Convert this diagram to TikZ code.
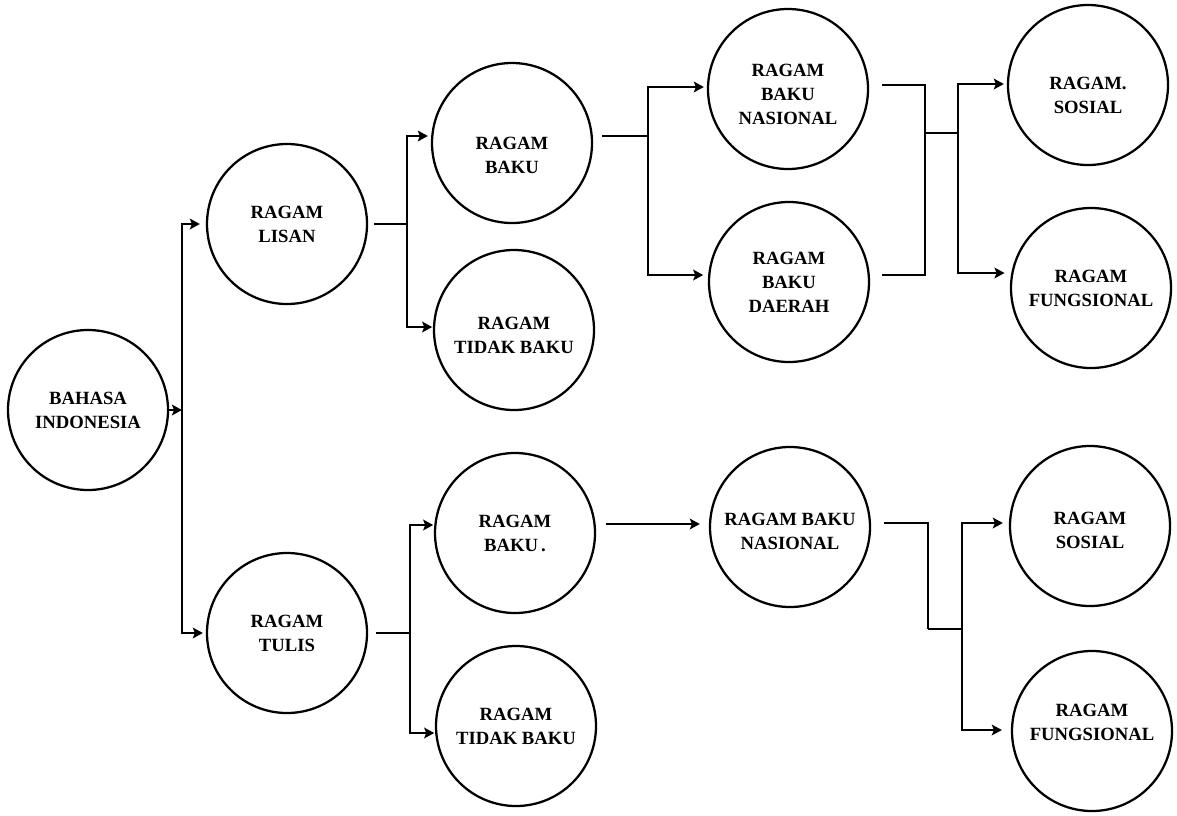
\documentclass[tikz,border=0pt]{standalone}
\usepackage{fontspec}
\setmainfont{Liberation Serif}
\usetikzlibrary{arrows.meta}
\begin{document}
\begin{tikzpicture}[x=0.75pt,y=-0.75pt,
  circ/.style={circle,draw,line width=1.7pt,minimum size=120pt,inner sep=0pt,align=center,
    font=\bfseries\fontsize{14}{18}\selectfont},
  ln/.style={line width=2pt},
  arr/.style={ln,-{Stealth[length=7.5pt,width=8pt,inset=1.5pt]},shorten >=2.25pt}]
\useasboundingbox (0,0) rectangle (1177,815);

% nodes
\node[circ] (bi) at (88,410) {BAHASA\\INDONESIA};
\node[circ] (lisan) at (287,224) {RAGAM\\LISAN};
\node[circ] (tulis) at (287,633) {RAGAM\\TULIS};
\node[circ] (bakua) at (512,143) {\rule{0pt}{27.6pt}RAGAM\\BAKU};
\node[circ] (tbakua) at (514,330) {\rule{0pt}{17pt}RAGAM\\TIDAK BAKU};
\node[circ] (nasa) at (788,89) {\rule{0pt}{17pt}RAGAM\\BAKU\\NASIONAL};
\node[circ] (daerah) at (789,282) {RAGAM\\BAKU\\DAERAH};
\node[circ] (sosa) at (1088,85) {\rule{0pt}{24.6pt}RAGAM.\\SOSIAL};
\node[circ] (funga) at (1091,288) {RAGAM\\FUNGSIONAL};
\node[circ] (bakub) at (515,533) {RAGAM\\BAKU\,.};
\node[circ] (tbakub) at (516,726) {RAGAM\\TIDAK BAKU};
\node[circ] (nasb) at (790,527) {\rule{0pt}{15.6pt}RAGAM BAKU\\NASIONAL};
\node[circ] (sosb) at (1090,526) {\rule{0pt}{15.6pt}RAGAM\\SOSIAL};
\node[circ] (fungb) at (1092,731) {RAGAM\\FUNGSIONAL\rule[-13.5pt]{0pt}{0pt}};

% junction points
\coordinate (ta) at (182,410);
\coordinate (tb) at (407,224);
\coordinate (tc) at (648,136);
\coordinate (td) at (925,133);
\coordinate (te) at (958,133);
\coordinate (tf) at (410,633);
\coordinate (tg) at (928,629);
\coordinate (th) at (962,629);

% connectors: Bahasa Indonesia
\draw[arr,shorten >=0pt] (bi.east) -- (ta);
\draw[arr,shorten >=4.5pt] (ta) |- (lisan.west);
\draw[arr] (ta) |- (tulis.west);

% Ragam Lisan
\draw[ln,shorten <=4.5pt] (lisan.east) -- (tb);
\draw[arr] (tb) |- (bakua.west |- 0,136);
\draw[arr,shorten >=0.5pt] (tb) |- (tbakua.west |- 0,327);

% Ragam Baku (lisan)
\draw[ln,shorten <=6.75pt] (bakua.east |- tc) -- (tc);
\draw[arr] (tc) |- (nasa.west |- 0,87);
\draw[arr,shorten >=3.5pt] (tc) |- (daerah.west |- 0,275);

% Nasional / Daerah -> Sosial / Fungsional
\draw[ln,shorten <=9.75pt] (nasa.east |- 0,85) -| (td);
\draw[ln,shorten <=9pt] (daerah.east |- 0,275) -| (td);
\draw[ln] (td) -- (te);
\draw[arr] (te) |- (sosa.west |- 0,84);
\draw[arr,shorten >=4pt] (te) |- (funga.west |- 0,273);

% Ragam Tulis
\draw[ln,shorten <=6pt] (tulis.east) -- (tf);
\draw[arr,shorten >=0.5pt] (tf) |- (bakub.west |- 0,525);
\draw[arr,shorten >=0.5pt] (tf) |- (tbakub.west |- 0,733);
\draw[arr,shorten <=7.5pt,shorten >=6.75pt] (bakub.east |- 0,524) -- (nasb.west |- 0,524);

% Nasional (tulis) -> Sosial / Fungsional
\draw[ln,shorten <=9.75pt] (nasb.east |- 0,523) -| (tg);
\draw[ln] (tg) -- (th);
\draw[arr,shorten >=4.5pt] (th) |- (sosb.west |- 0,523);
\draw[arr,shorten >=6.75pt] (th) |- (fungb.west |- 0,730);
\end{tikzpicture}
\end{document}
